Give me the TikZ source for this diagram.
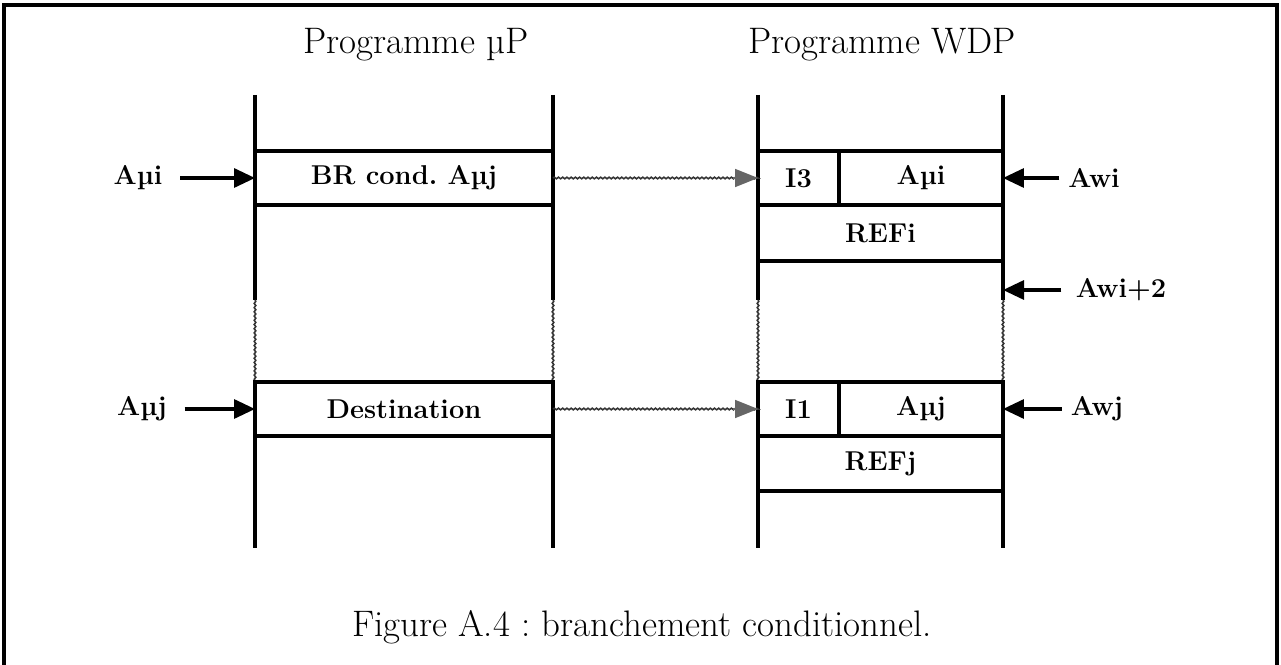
\documentclass[tikz,border=0pt]{standalone}
\usepackage{fontspec}
\usetikzlibrary{arrows.meta,positioning,decorations.pathmorphing}

\begin{document}
\frenchspacing
\begin{tikzpicture}[x=0.02cm, y=-0.02cm,
    every node/.style={font=\fontsize{15.5}{18}\selectfont\bfseries},
    title/.style={font=\fontsize{21}{25}\selectfont},
    cell/.style={rectangle, draw, line width=1.8pt, outer sep=0pt, inner sep=0pt, minimum height=1.08cm},
    leftlabel/.style={inner sep=10pt},
    rightlabel/.style={inner sep=5pt},
    rail/.style={line width=1.8pt},
    wavy/.style={line width=0.9pt, black!80, decorate, decoration={snake, amplitude=0.45pt, segment length=2.4pt}},
    addr/.style={-{Triangle[length=0.42cm,width=0.38cm]}, line width=1.8pt},
    linkhead/.style={-{Triangle[length=0.46cm,width=0.36cm]}, line width=0.9pt, black!60}
]
    \useasboundingbox (0,0) rectangle (1281,665);

    % Frame
    \draw[rail] (4,665) -- (4,5) -- (1277,5) -- (1277,665);

    % Titles
    \node[title] (lhead) at (416,45) {Programme µP};
    \node[title] (rhead) at (882,45) {Programme WDP};

    % Rails of the two programs
    \coordinate (lta) at (255,95);  \coordinate (ltb) at (255,300);
    \coordinate (ltc) at (255,382); \coordinate (ltd) at (255,548);
    \coordinate (lra) at (553,95);  \coordinate (lrb) at (553,300);
    \coordinate (lrc) at (553,382); \coordinate (lrd) at (553,548);
    \coordinate (rta) at (758,95);  \coordinate (rtb) at (758,300);
    \coordinate (rtc) at (758,382); \coordinate (rtd) at (758,548);
    \coordinate (rra) at (1003,95); \coordinate (rrb) at (1003,300);
    \coordinate (rrc) at (1003,382); \coordinate (rrd) at (1003,548);
    \foreach \r in {lt,lr,rt,rr} {
        \draw[rail] (\r a) -- (\r b);
        \draw[wavy] (\r b) -- (\r c);
        \draw[rail] (\r c) -- (\r d);
    }

    % Program uP
    \node[cell, minimum width=5.96cm] (br) at (404,178) {BR cond. Aµj};
    \node[cell, minimum width=5.96cm] (dest) at (404,409) {Destination};

    % Program WDP
    \node[cell, minimum width=1.62cm] (ithree) at (798.5,178) {I3};
    \node[cell, minimum width=3.28cm, right=0pt of ithree] (ami) {Aµi};
    \node[cell, minimum width=4.9cm, minimum height=1.12cm, anchor=north west] (refi) at (ithree.south west) {REFi};
    \node[cell, minimum width=1.62cm] (ione) at (798.5,409) {I1};
    \node[cell, minimum width=3.28cm, right=0pt of ione] (amj) {Aµj};
    \node[cell, minimum width=4.9cm, minimum height=1.1cm, anchor=north west] (refj) at (ione.south west) {REFj};

    % Addresses
    \node[leftlabel] (lai) at (138,178) {Aµi};
    \node[leftlabel] (laj) at (142,409) {Aµj};
    \node[rightlabel] (awi) at (1094,178) {Awi};
    \node[rightlabel, inner sep=8pt] (awitwo) at (1121,290) {Awi+2};
    \node[rightlabel] (awj) at (1097,409) {Awj};
    \coordinate (rrtwo) at (1003,290);

    \draw[addr] (lai) -- (br);
    \draw[addr] (laj) -- (dest);
    \draw[addr] (awi) -- (ami);
    \draw[addr] (awitwo) -- (rrtwo);
    \draw[addr] (awj) -- (amj);

    % Links (wavy line, grey head)
    \draw[wavy, shorten >=0.44cm] (br) -- (ithree);
    \draw[wavy, shorten >=0.44cm] (dest) -- (ione);
    \draw[linkhead] ([xshift=-0.5cm] ithree.west) -- (ithree);
    \draw[linkhead] ([xshift=-0.5cm] ione.west) -- (ione);

    % Caption
    \node[title] (caption) at (642,627) {Figure A.4 : branchement conditionnel.};
\end{tikzpicture}
\end{document}
